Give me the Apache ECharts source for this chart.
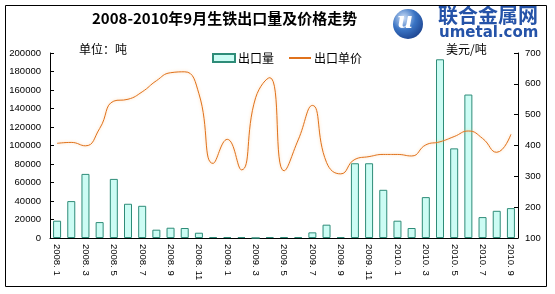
<!DOCTYPE html>
<html><head><meta charset="utf-8">
<script src="https://cdn.jsdelivr.net/npm/echarts@6/dist/echarts.min.js"></script>
<style>html,body{margin:0;padding:0;background:#fff}#c{width:555px;height:294px}</style>
</head><body><div id="c"></div>
<script>
var categories = ['2008.1','2008.2','2008.3','2008.4','2008.5','2008.6','2008.7','2008.8','2008.9','2008.10','2008.11','2008.12',
  '2009.1','2009.2','2009.3','2009.4','2009.5','2009.6','2009.7','2009.8','2009.9','2009.10','2009.11','2009.12',
  '2010.1','2010.2','2010.3','2010.4','2010.5','2010.6','2010.7','2010.8','2010.9'];
var exportVolume = [18700, 39900, 69300, 17200, 63900, 37000, 34800, 9000, 11100, 10800, 5700, 1000,
  1000, 1000, 0, 1000, 1000, 1000, 6100, 14400, 1000, 80800, 80800, 52100,
  18700, 10800, 44200, 193200, 96900, 155100, 22600, 29400, 32300];
var exportPrice = [407, 410, 399, 455, 544, 550, 574, 610, 636, 639, 568, 342,
  420, 321, 555, 620, 318, 418, 530, 345, 308, 355, 364, 371,
  371, 366, 402, 412, 429, 447, 423, 378, 436];
var leftTicks = [0, 200000, 20000];
var rightTicks = [100, 700, 100];

var chart = echarts.init(document.getElementById('c'), null, {renderer: 'canvas'});
var lblFont = {fontFamily: 'Liberation Sans', fontSize: 9.5, color: '#000'};
chart.setOption({
  backgroundColor: '#fff',
  animation: false,
  grid: {left: 50, right: 37, top: 53, bottom: 56},
  legend: {
    left: 207, top: 47, itemGap: 14, itemWidth: 22, itemHeight: 8,
    textStyle: {fontFamily: 'Noto Sans CJK SC', fontSize: 12, color: '#000', padding: [0,0,0,-2]},
    data: [{name: '出口量', icon: 'rect'}, {name: '出口单价', itemStyle: {opacity: 0}}]
  },
  xAxis: {
    type: 'category', data: categories, boundaryGap: true,
    axisLine: {lineStyle: {color: '#000', width: 1}},
    axisTick: {inside: true, length: 3, interval: 0, lineStyle: {color: '#000'}},
    axisLabel: Object.assign({interval: 1, rotate: -90, margin: 6, formatter: function (v) { return v.replace('.', '. '); }}, lblFont),
    splitLine: {show: false}
  },
  yAxis: [{
    type: 'value', min: leftTicks[0], max: leftTicks[1], interval: leftTicks[2],
    axisLine: {show: true, lineStyle: {color: '#000'}},
    axisTick: {show: true, inside: true, length: 4, lineStyle: {color: '#000'}},
    axisLabel: Object.assign({margin: 9, formatter: function (v) { return String(v); }}, lblFont),
    splitLine: {show: false}
  }, {
    type: 'value', min: rightTicks[0], max: rightTicks[1], interval: rightTicks[2],
    axisLine: {show: true, lineStyle: {color: '#000'}},
    axisTick: {show: true, inside: true, length: 4, lineStyle: {color: '#000'}},
    axisLabel: Object.assign({margin: 7, formatter: function (v) { return String(v); }}, lblFont),
    splitLine: {show: false}
  }],
  series: [{
    name: '出口量', type: 'bar', yAxisIndex: 0, data: exportVolume, barWidth: 8,
    itemStyle: {color: '#ccfcf4', borderColor: '#2e8c78', borderWidth: 1}
  }, {
    name: '出口单价', type: 'line', yAxisIndex: 1, data: exportPrice, smooth: 0.5,
    symbol: 'none',
    lineStyle: {color: '#e0721c', width: 1, shadowColor: 'rgba(255,190,120,0.7)', shadowBlur: 3},
    itemStyle: {color: '#e0721c'}
  }],
  graphic: [
    {type: 'rect', shape: {x: 5.5, y: 5.5, width: 541, height: 281}, style: {fill: 'none', stroke: '#000', lineWidth: 1}, z: 100},
    {type: 'text', left: 92, top: 11, style: {text: '2008-2010年9月生铁出口量及价格走势', font: 'bold 15px "Noto Sans CJK SC"', fill: '#000'}},
    {type: 'text', left: 79, top: 43, style: {text: '单位：吨', font: '12px "Noto Sans CJK SC"', fill: '#000'}},
    {type: 'text', left: 446, top: 43, style: {text: '美元/吨', font: '12px "Noto Sans CJK SC"', fill: '#000'}},
    {type: 'circle', shape: {cx: 408, cy: 24, r: 15}, style: {fill: {type: 'radial', x: 0.35, y: 0.3, r: 0.8, colorStops: [{offset: 0, color: '#cfe0f7'}, {offset: 0.5, color: '#3a74c4'}, {offset: 1, color: '#1a3f8a'}]}}},
    {type: 'text', left: 397, top: 11, style: {text: 'u', font: 'italic bold 22px "DejaVu Serif"', fill: '#ffffff'}},
    {type: 'text', left: 438, top: 5, style: {text: '联合金属网', font: 'bold 20px "Noto Sans CJK SC"', fill: '#2553a8'}},
    {type: 'text', left: 439, top: 26, style: {text: 'umetal.com', font: 'bold 15px "DejaVu Sans"', fill: '#2553a8'}}
  ]
});
</script></body></html>
